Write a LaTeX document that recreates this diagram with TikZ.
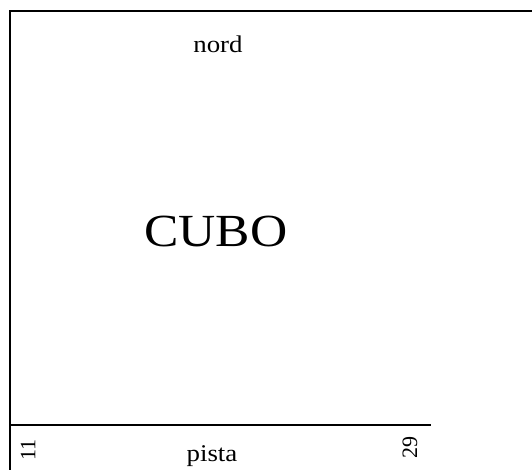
\documentclass[tikz,border=0pt]{standalone}
\usepackage{fontspec}
\setmainfont{Liberation Serif}
\newfontfamily\widefont[FakeStretch=1.12]{Liberation Serif}
\begin{document}
\begin{tikzpicture}[x=1pt,y=1pt,
  frameline/.style={line width=1.2pt, black},
  lbl/.style={inner sep=0pt, anchor=base, font=\widefont\fontsize{24}{26}\selectfont},
  rlbl/.style={inner sep=0pt, rotate=90, font=\fontsize{22}{24}\selectfont}]
\useasboundingbox (0,0) rectangle (532,470);
\coordinate (tl) at (10,459);
\coordinate (tr) at (532,459);
\coordinate (bl) at (10,0);
\coordinate (pl) at (10,45);
\coordinate (pr) at (431,45);
\draw[frameline] (tr) -- (tl) -- (bl);
\draw[frameline] (pl) -- (pr);
\node[lbl] (nord) at (218,417) {nord};
\node[lbl, font=\widefont\fontsize{46}{50}\selectfont] (cubo) at (216,223) {CUBO};
\node[lbl] (pista) at (212,8) {pista};
\node[rlbl] (n11) at (28,20) {11};
\node[rlbl] (n29) at (410,22) {29};
\end{tikzpicture}
\end{document}
